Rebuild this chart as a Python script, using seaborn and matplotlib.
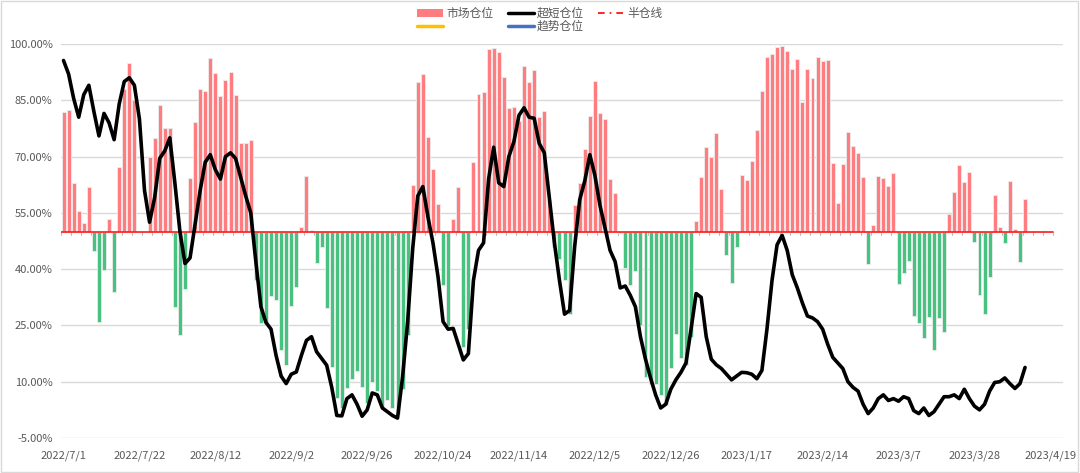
import matplotlib
matplotlib.use("Agg")
import matplotlib.pyplot as plt
from matplotlib.patches import Patch, Rectangle
from matplotlib.lines import Line2D
import numpy as np
import pandas as pd
import seaborn as sns

# ---------------- data ----------------
tick_labels = ["2022/7/1", "2022/7/22", "2022/8/12", "2022/9/2", "2022/9/26",
               "2022/10/24", "2022/11/14", "2022/12/5", "2022/12/26", "2023/1/17",
               "2023/2/14", "2023/3/7", "2023/3/28", "2023/4/19"]
label_step = 15          # trading days between labels
n_categories = 198       # trading days on the axis

# 市场仓位 (%), one per trading day
market = [
    82.0, 82.4, 62.9, 55.5, 52.4, 62.0, 44.9, 25.8, 39.8, 53.4,
    34.0, 67.3, 88.1, 94.9, 85.1, 50.0, 50.0, 70.0, 74.9, 83.7,
    77.5, 77.7, 29.8, 22.4, 34.7, 64.2, 79.1, 88.0, 87.5, 96.2,
    92.4, 86.2, 90.4, 92.6, 86.4, 73.5, 73.5, 74.4, 37.2, 25.6,
    25.5, 32.8, 31.8, 18.4, 14.4, 30.2, 35.3, 51.3, 64.9, 50.4,
    41.6, 45.8, 29.6, 14.0, 5.6, 2.9, 8.2, 10.7, 12.9, 8.5,
    4.2, 10.0, 7.5, 3.3, 5.0, 3.0, 1.5, 8.0, 22.4, 62.4,
    90.0, 91.9, 75.3, 66.7, 57.4, 35.8, 24.8, 53.3, 61.8, 19.3,
    24.0, 68.6, 86.7, 87.1, 98.7, 99.0, 97.9, 91.3, 82.9, 83.3,
    79.6, 94.2, 89.8, 93.1, 80.6, 82.2, 58.4, 46.0, 42.6, 37.1,
    28.0, 57.1, 63.0, 71.9, 80.8, 90.1, 81.7, 80.1, 63.9, 60.2,
    49.5, 40.4, 35.8, 39.6, 25.0, 11.3, 9.3, 9.5, 6.4, 3.8,
    13.7, 22.7, 16.4, 14.4, 22.0, 52.8, 64.6, 72.5, 69.8, 76.4,
    61.4, 43.8, 36.2, 46.0, 65.1, 63.8, 68.9, 77.1, 87.5, 96.6,
    97.3, 99.3, 99.5, 98.2, 93.3, 95.9, 84.6, 93.3, 90.9, 96.5,
    95.5, 95.7, 68.2, 57.7, 68.0, 76.5, 72.9, 70.9, 64.5, 41.4,
    51.8, 64.8, 64.2, 62.2, 65.5, 36.0, 38.9, 42.2, 27.5, 25.6,
    21.6, 27.3, 18.4, 26.9, 23.3, 54.6, 60.5, 67.7, 63.3, 66.0,
    47.3, 33.1, 28.0, 37.8, 59.8, 51.2, 46.9, 63.6, 50.7, 41.8,
    58.7, 50.0, 50.0, 50.0, 50.0, 50.0,
]

# 超短仓位 (%), one per trading day
ultra = [
    95.6, 92.0, 85.5, 80.5, 86.5, 89.0, 82.0, 75.5, 81.5, 79.0,
    74.5, 84.0, 90.0, 91.0, 89.0, 80.0, 61.0, 52.5, 59.0, 69.5,
    71.5, 75.0, 63.0, 50.0, 41.5, 43.0, 52.0, 61.0, 68.5, 70.5,
    66.5, 64.0, 70.0, 71.0, 69.5, 64.5, 59.5, 55.0, 42.0, 30.0,
    25.8, 24.0, 17.0, 11.5, 9.5, 12.0, 12.6, 17.0, 21.0, 22.0,
    18.0, 16.2, 14.4, 8.5, 1.0, 0.9, 5.5, 6.5, 4.0, 0.8,
    2.5, 7.0, 6.5, 3.0, 2.0, 1.0, 0.3, 11.3, 26.0, 45.5,
    59.5, 62.0, 54.0, 47.0, 38.0, 26.0, 24.0, 24.2, 20.0, 15.8,
    17.5, 37.0, 45.0, 47.0, 64.0, 72.5, 63.0, 62.0, 70.0, 74.0,
    81.0, 83.0, 80.5, 80.2, 73.5, 71.0, 59.0, 47.0, 37.0, 28.0,
    29.0, 46.0, 58.5, 63.5, 70.5, 65.0, 57.0, 51.0, 45.0, 42.0,
    35.0, 35.5, 33.0, 30.0, 22.0, 16.0, 11.0, 6.5, 3.0, 4.0,
    8.0, 10.5, 12.5, 15.0, 24.0, 33.5, 32.5, 22.0, 16.0, 14.5,
    13.5, 12.0, 10.5, 11.5, 12.5, 12.4, 12.0, 10.8, 13.0, 24.0,
    37.0, 46.5, 49.0, 45.0, 38.5, 35.0, 31.0, 27.5, 27.0, 26.0,
    24.0, 20.0, 16.5, 15.0, 13.5, 10.0, 8.5, 7.5, 4.0, 1.5,
    3.0, 5.5, 6.5, 5.0, 5.5, 4.8, 6.0, 5.5, 2.3, 1.5,
    3.0, 1.0, 2.0, 4.0, 6.0, 6.0, 6.5, 5.5, 8.0, 5.5,
    3.5, 2.5, 4.0, 7.5, 9.8, 10.0, 11.0, 9.5, 8.2, 9.5,
    13.8,
]

half_line = 50.0
y_ticks = [-5, 10, 25, 40, 55, 70, 85, 100]

# ---------------- style ----------------
sns.set_theme(style="white")
plt.rcParams["font.family"] = ["Noto Sans CJK SC", "DejaVu Sans"]

RED = "#FF7C80"
GREEN = "#47C281"
TXT = "#595959"
GRID = "#D9D9D9"

fig = plt.figure(figsize=(10.8, 4.73), dpi=100)
ax = fig.add_axes([61 / 1080, 1 - 438 / 473, (1063 - 61) / 1080, (438 - 44) / 473])

df_bar = pd.DataFrame({"idx": np.arange(len(market)), "val": market})
df_bar["h"] = df_bar["val"] - half_line
colors = [RED if h >= 0 else GREEN for h in df_bar["h"]]
ax.bar(df_bar["idx"], df_bar["h"], bottom=half_line, width=0.78,
       color=colors, edgecolor="#EDEDED", linewidth=0.6, zorder=2)

# half-position line
ax.plot([-0.5, len(market) - 0.5], [half_line, half_line], color="#FF1A1A",
        lw=1.2, linestyle="-", zorder=3)

df_line = pd.DataFrame({"idx": np.arange(len(ultra)), "val": ultra})
sns.lineplot(data=df_line, x="idx", y="val", ax=ax, color="black", lw=2.6,
             zorder=4, legend=False, solid_joinstyle="round", solid_capstyle="round")

# axis-crossing tick marks at 50%
for b in np.arange(-0.5, n_categories, 2):
    ax.plot([b, b], [half_line, half_line - 1.0], color="#BFBFBF", lw=0.8, zorder=1)

ax.set_xlim(-0.5, n_categories - 0.5)
ax.set_ylim(-5, 100)
ax.set_yticks(y_ticks)
ax.set_yticklabels([f"{v:.2f}%" for v in y_ticks], color=TXT, fontsize=8)
ax.set_xticks(np.arange(0, label_step * len(tick_labels), label_step))
ax.set_xticklabels(tick_labels, color=TXT, fontsize=8)
ax.tick_params(axis="both", length=0, pad=6)
ax.tick_params(axis="x", pad=9)
ax.yaxis.grid(True, color=GRID, lw=1)
ax.set_axisbelow(True)
for s in ax.spines.values():
    s.set_visible(False)
ax.set_xlabel("")
ax.set_ylabel("")

# legend
handles = [
    Patch(facecolor=RED, edgecolor="none"),
    Line2D([], [], color="#FFC000", lw=2.5),
    Line2D([], [], color="black", lw=2.5),
    Line2D([], [], color="#4472C4", lw=2.5),
    Line2D([], [], color="#FF0000", lw=1.2, linestyle=(0, (4, 3, 1, 3))),
]
labels = ["市场仓位", "", "超短仓位", "趋势仓位", "半仓线"]
leg = fig.legend(handles, labels, ncol=3, loc="upper center",
                 bbox_to_anchor=(0.5, 1.005), frameon=False, fontsize=8.5,
                 labelspacing=0.0, columnspacing=1.2, handletextpad=0.3,
                 handlelength=2.2, handleheight=0.6, borderpad=0.3)
for t in leg.get_texts():
    t.set_color(TXT)

fig.patches.append(Rectangle((0.001, 0.002), 0.997, 0.996, transform=fig.transFigure,
                             fill=False, edgecolor="#D9D9D9", lw=1))

fig.savefig("out.png", dpi=100)
